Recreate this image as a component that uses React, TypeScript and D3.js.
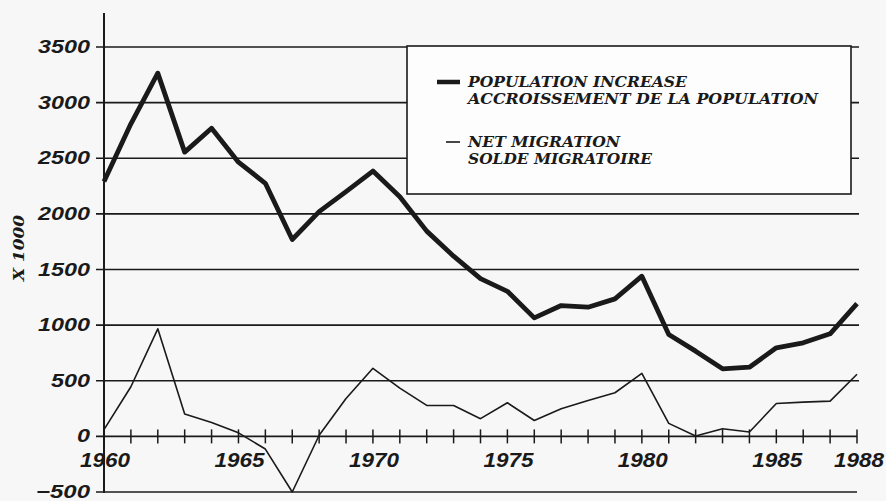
import React from "react";
import * as d3 from "d3";

const years = d3.range(1960, 1989);
const populationIncrease = [
  2290, 2810, 3265, 2555, 2770, 2465, 2275, 1770, 2020, 2200, 2385,
  2154, 1845, 1620, 1418, 1304, 1065, 1176, 1161, 1236, 1440,
  916, 766, 607, 622, 796, 841, 922, 1194,
];
const netMigration = [
  60, 446, 967, 201, 125, 32, -114, -500, 10, 341, 612,
  434, 278, 278, 159, 302, 143, 248, 323, 392, 566,
  117, 3, 69, 39, 296, 308, 317, 558,
];
const yTicks = [-500, 0, 500, 1000, 1500, 2000, 2500, 3000, 3500];
const xLabels = [1960, 1965, 1970, 1975, 1980, 1985, 1988];
const legendItems = [
  { lines: ["POPULATION INCREASE", "ACCROISSEMENT DE LA POPULATION"], widths: [219, 350], thick: true },
  { lines: ["NET MIGRATION", "SOLDE MIGRATOIRE"], widths: [152, 184], thick: false },
];
const yLabelText = "X 1000";

export default function App() {
  const W = 886, H = 501;
  const x = d3.scaleLinear().domain([1960, 1988]).range([104, 857]);
  const y = d3.scaleLinear().domain([-500, 3500]).range([492, 47]);
  const line = (vals: number[]) =>
    d3.line<number>().x((_, i) => x(years[i])).y((d) => y(d))(vals) || "";
  const ink = "#1a1a1a";
  const numFont = "'Liberation Sans', Arial, sans-serif";
  const serifFont = "'DejaVu Serif', serif";

  return (
    <svg width={W} height={H} style={{ position: "absolute", left: 0, top: 0, background: "#f7f7f7" }}>
      <rect x={0} y={0} width={W} height={H} fill="#f7f7f7" />
      {/* gridlines */}
      {yTicks.map((t) => (
        <g key={t}>
          <line x1={96} x2={t === 0 || t === -500 ? 857 : 859} y1={y(t)} y2={y(t)} stroke={ink} strokeWidth={1.6} />
          <text
            x={90}
            y={y(t) + 6}
            textAnchor="end"
            fontFamily={numFont}
            fontWeight="bold"
            fontStyle="italic"
            fontSize={18}
            fill={ink}
            textLength={String(t).length * 13 + (t < 0 ? 2 : 0)}
            lengthAdjust="spacingAndGlyphs"
          >
            {t < 0 ? "\u2212" + Math.abs(t) : t}
          </text>
        </g>
      ))}
      {/* y axis */}
      <line x1={104} x2={104} y1={13} y2={493} stroke={ink} strokeWidth={2} />
      {/* x ticks */}
      {years.map((yr) => (
        <line key={yr} x1={x(yr)} x2={x(yr)} y1={y(0) - 7} y2={y(0) + 7} stroke={ink} strokeWidth={1.5} />
      ))}
      {xLabels.map((yr) => (
        <text
          key={yr}
          x={x(yr) + (yr === 1988 ? 2 : 1)}
          y={467}
          textAnchor="middle"
          fontFamily={numFont}
          fontWeight="bold"
          fontStyle="italic"
          fontSize={20}
          fill={ink}
          textLength={50}
          lengthAdjust="spacingAndGlyphs"
        >
          {yr}
        </text>
      ))}
      {/* y axis label */}
      <text
        transform="translate(24,248) rotate(-90)"
        textAnchor="middle"
        fontFamily={serifFont}
        fontWeight="bold"
        fontStyle="italic"
        fontSize={15}
        fill={ink}
        textLength={66}
        lengthAdjust="spacingAndGlyphs"
      >
        {yLabelText}
      </text>
      {/* series */}
      <path d={line(netMigration)} fill="none" stroke={ink} strokeWidth={1.6} strokeLinejoin="round" />
      <path d={line(populationIncrease)} fill="none" stroke={ink} strokeWidth={4.8} strokeLinejoin="round" />
      {/* legend */}
      <rect x={407} y={46} width={444} height={148} fill="#fdfdfd" stroke={ink} strokeWidth={1.6} />
      {legendItems.map((item, i) => {
        const base = i === 0 ? 87 : 147;
        return (
          <g key={i}>
            <line
              x1={item.thick ? 437 : 446}
              x2={460}
              y1={base - 5}
              y2={base - 5}
              stroke={ink}
              strokeWidth={item.thick ? 4.5 : 1.6}
            />
            {item.lines.map((l, j) => (
              <text
                key={j}
                x={468}
                y={base + j * 17}
                fontFamily={serifFont}
                fontWeight="bold"
                fontStyle="italic"
                fontSize={15}
                fill={ink}
                textLength={item.widths[j]}
                lengthAdjust="spacingAndGlyphs"
              >
                {l}
              </text>
            ))}
          </g>
        );
      })}
    </svg>
  );
}
